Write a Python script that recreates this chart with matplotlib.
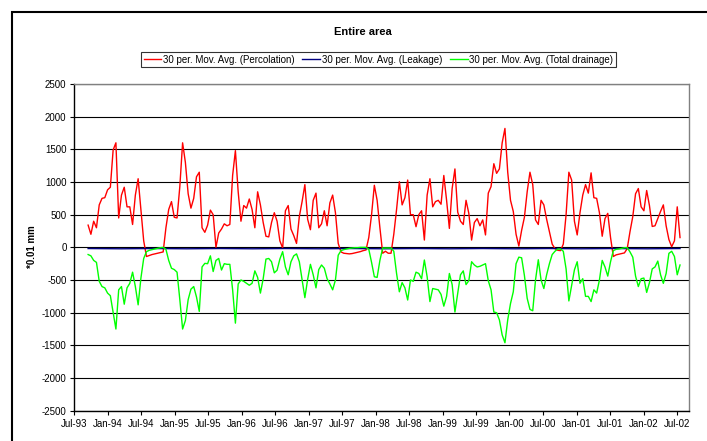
import matplotlib
matplotlib.use("Agg")
import matplotlib.pyplot as plt
import matplotlib.dates as mdates
from matplotlib.patches import Rectangle
from matplotlib.ticker import MultipleLocator, FuncFormatter
import pandas as pd

# === 数据 (读图估计, 半月一个点) ===
series_start = "1993-09-16"
series_end = "2002-07-19"

percolation = [
    340, 200, 400, 300, 650, 750, 760, 880, 920, 1490,
    1600, 450, 800, 920, 620, 620, 350, 800, 1050, 580,
    100, -140, -125, -110, -100, -90, -80, -70, 300, 580,
    700, 460, 450, 930, 1600, 1300, 820, 600, 750, 1080,
    1150, 300, 230, 340, 570, 500, 0, 220, 280, 360,
    330, 350, 1100, 1480, 850, 400, 640, 600, 740, 580,
    300, 850, 650, 380, 170, 160, 380, 530, 400, 100,
    -10, 560, 640, 280, 180, 60, 470, 700, 960, 430,
    270, 720, 830, 300, 360, 560, 330, 680, 800, 530,
    60, -70, -90, -95, -100, -95, -85, -75, -65, -50,
    -40, 150, 500, 950, 720, 300, -90, -60, -90, -90,
    200, 580, 1005, 650, 760, 1030, 500, 500, 316, 500,
    560, 112, 800, 1050, 620, 700, 720, 660, 1100, 720,
    290, 900, 1200, 540, 400, 350, 720, 520, 112, 380,
    440, 330, 420, 190, 830, 930, 1280, 1133, 1200, 1600,
    1820, 1150, 720, 550, 200, 20, 260, 460, 850, 1150,
    960, 420, 350, 720, 650, 430, 240, 50, -20, -45,
    -50, 50, 500, 1150, 1030, 400, 190, 530, 800, 960,
    830, 1140, 760, 750, 530, 170, 440, 520, 150, -140,
    -115, -105, -95, -85, -20, 240, 470, 820, 900, 620,
    560, 870, 640, 320, 330, 440, 550, 650, 330, 120,
    10, 100, 620, 150,
]

total_drainage = [
    -110, -130, -200, -230, -520, -600, -620, -700, -740, -1000,
    -1250, -650, -600, -870, -620, -550, -380, -600, -880, -470,
    -170, -66, -45, -35, -25, -15, -5, 0, -30, -200,
    -320, -340, -380, -800, -1250, -1120, -800, -640, -600, -760,
    -980, -300, -245, -250, -130, -370, -200, -170, -347, -250,
    -260, -260, -650, -1160, -560, -500, -520, -550, -580, -550,
    -360, -460, -700, -480, -180, -170, -220, -390, -350, -180,
    -66, -300, -420, -220, -130, -100, -220, -500, -770, -490,
    -260, -420, -620, -340, -270, -320, -480, -560, -650, -500,
    -120, -50, -35, -25, -15, -10, -5, -5, 0, 0,
    0, -30, -230, -450, -460, -200, -10, -10, -10, -10,
    -60, -400, -680, -540, -620, -806, -500, -520, -380, -400,
    -480, -194, -450, -830, -630, -640, -650, -720, -900, -750,
    -400, -570, -990, -700, -420, -360, -570, -510, -220, -270,
    -300, -290, -270, -250, -510, -650, -990, -1000, -1110, -1340,
    -1460, -1110, -860, -680, -250, -150, -160, -430, -780, -950,
    -970, -500, -190, -500, -630, -420, -250, -110, -60, -25,
    -25, -60, -330, -820, -580, -345, -220, -550, -480, -750,
    -750, -830, -650, -700, -500, -200, -300, -440, -220, -50,
    -30, -25, -15, -5, -5, -70, -150, -440, -600, -480,
    -470, -690, -540, -330, -300, -210, -420, -551, -400, -92,
    -60, -140, -420, -270,
]

# 渗漏量很小, 季度估计
leakage = [
    -18, -20, -22, -20, -18, -20, -22, -20, -18, -20,
    -22, -20, -18, -20, -22, -20, -18, -20, -22, -20,
    -18, -20, -22, -20, -18, -20, -22, -20, -18, -20,
    -22, -20, -18, -20, -22, -20, -18,
]

labels = ["30 per. Mov. Avg. (Percolation)",
          "30 per. Mov. Avg. (Leakage)",
          "30 per. Mov. Avg. (Total drainage)"]
colors = ["#ff0000", "#000080", "#00ff00"]

x_min = "1993-07-01"
x_max = "2002-09-06"

# === 全局样式 ===
plt.rcParams["font.family"] = ["Liberation Sans", "DejaVu Sans"]
plt.rcParams["font.size"] = 7

W, H = 707, 441
fig = plt.figure(figsize=(W / 100, H / 100), dpi=100)
fig.patch.set_facecolor("white")

# 图表区外框 (右侧和下侧被裁掉)
fig.patches.append(Rectangle((11.7 / W, -0.2), 1.5, 1 - 12 / H + 0.2,
                             transform=fig.transFigure, fill=False,
                             edgecolor="black", lw=1.5, clip_on=False))

ax = fig.add_axes([74 / W, 1 - 410.7 / H, (689 - 74) / W, (410.7 - 84) / H])

perc_dates = pd.date_range(series_start, series_end, periods=len(percolation))
drain_dates = pd.date_range(series_start, series_end, periods=len(total_drainage))
leak_dates = pd.date_range(series_start, series_end, periods=len(leakage))

ax.plot(perc_dates, percolation, color=colors[0], lw=1.0, label=labels[0])
ax.plot(leak_dates, leakage, color=colors[1], lw=1.0, label=labels[1])
ax.plot(drain_dates, total_drainage, color=colors[2], lw=1.0, label=labels[2])

ax.set_xlim(pd.Timestamp(x_min), pd.Timestamp(x_max))
ax.set_ylim(-2500, 2500)
ax.yaxis.set_major_locator(MultipleLocator(500))
ax.yaxis.set_major_formatter(FuncFormatter(lambda v, p: f"{int(v)}"))
ax.xaxis.set_major_locator(mdates.MonthLocator(bymonth=[1, 7]))
ax.xaxis.set_major_formatter(mdates.DateFormatter("%b-%y"))

ax.yaxis.grid(True, color="black", lw=0.8)
ax.set_axisbelow(True)
ax.tick_params(axis="both", direction="out", length=3, width=0.8,
               labelsize=7, color="black")
ax.tick_params(axis="y", pad=2.4)
ax.tick_params(axis="x", pad=3)

for side in ["left", "bottom"]:
    ax.spines[side].set_color("black")
    ax.spines[side].set_linewidth(1.0)
for side in ["top", "right"]:
    ax.spines[side].set_color("#808080")
    ax.spines[side].set_linewidth(1.0)

# === 标题, 轴标签, 图例 ===
fig.text(363 / W, 1 - 31.7 / H, "Entire area", ha="center", va="center",
         fontsize=8, fontweight="bold")
fig.text(31.7 / W, 1 - 246.7 / H, "*0.01 mm", ha="center", va="center",
         rotation=90, fontsize=7, fontweight="bold")

leg = fig.legend(loc="center", bbox_to_anchor=(378.5 / W, 1 - 59.7 / H),
                 ncol=3, fontsize=7, frameon=True, fancybox=False,
                 handlelength=1.8, handletextpad=0.2, columnspacing=0.8,
                 borderpad=0.25, borderaxespad=0)
leg.get_frame().set_edgecolor("black")
leg.get_frame().set_linewidth(0.8)

fig.savefig("out.png", dpi=100)
